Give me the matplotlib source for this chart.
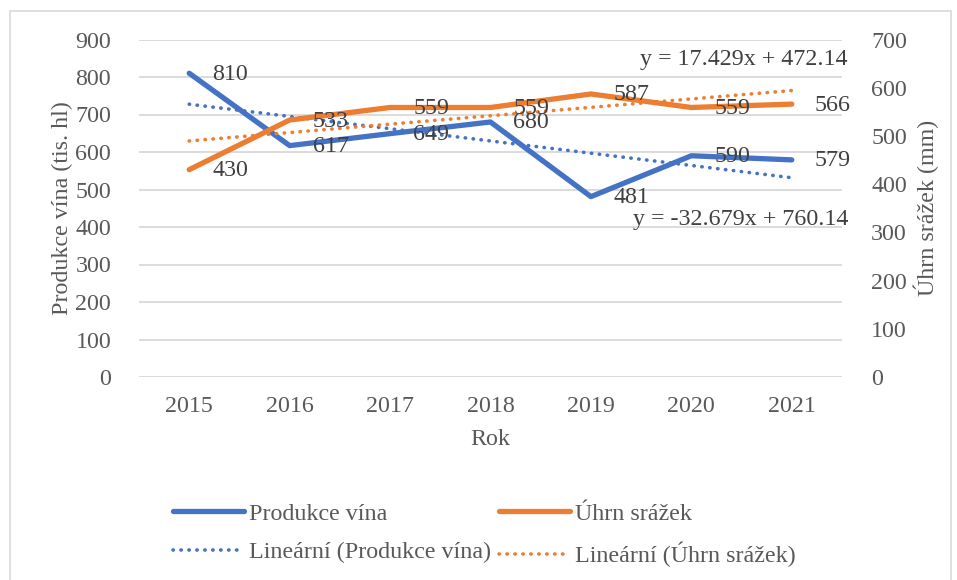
import numpy as np
import matplotlib
matplotlib.use("Agg")
import matplotlib.pyplot as plt
from matplotlib.patches import Rectangle

plt.rcParams['font.family'] = ['Liberation Serif', 'DejaVu Serif']

years = ['2015', '2016', '2017', '2018', '2019', '2020', '2021']
wine = [810, 617, 649, 680, 481, 590, 579]
rain = [430, 533, 559, 559, 587, 559, 566]
left_ticks = [0, 100, 200, 300, 400, 500, 600, 700, 800, 900]
right_ticks = [0, 100, 200, 300, 400, 500, 600, 700]

BLUE = '#4472C4'
ORANGE = '#ED7D31'
TXT = '#404040'
TICK = '#595959'
FS = 17.3

W, H = 957, 580
fig = plt.figure(figsize=(W / 100, H / 100), dpi=100)

# chart-area border
fig.patches.append(Rectangle((10 / W, -0.02), 941 / W, 1 - 11 / H + 0.02,
                             transform=fig.transFigure, fill=False,
                             edgecolor='#D9D9D9', linewidth=1.2))

ax = fig.add_axes([139 / W, 203 / H, 703 / W, 337.5 / H])
ax2 = ax.twinx()

x = np.arange(len(years))
xn = x + 1

# trendlines (least squares fit as Excel does)
wb, wa = np.polyfit(xn, wine, 1)
rb, ra = np.polyfit(xn, rain, 1)

DOT = (0, (0.1, 2.1))
l1, = ax.plot(x, wine, color=BLUE, lw=3.8, solid_capstyle='round',
              solid_joinstyle='round', zorder=5, label='Produkce vína')
l3, = ax.plot(x, wb * xn + wa, color=BLUE, lw=2.6, linestyle=DOT,
              dash_capstyle='round', zorder=4, label='Lineární (Produkce vína)')
l2, = ax2.plot(x, rain, color=ORANGE, lw=3.8, solid_capstyle='round',
               solid_joinstyle='round', zorder=5, label='Úhrn srážek')
l4, = ax2.plot(x, rb * xn + ra, color=ORANGE, lw=2.6, linestyle=DOT,
               dash_capstyle='round', zorder=4, label='Lineární (Úhrn srážek)')

for xi, v in zip(x, wine):
    ax.annotate(str(v), (xi, v), xytext=(23, -1), textcoords='offset pixels',
                ha='left', va='center', fontsize=FS, color=TXT, zorder=10)
for xi, v in zip(x, rain):
    ax2.annotate(str(v), (xi, v), xytext=(23, -1), textcoords='offset pixels',
                 ha='left', va='center', fontsize=FS, color=TXT, zorder=10)

ax.set_xlim(-0.5, len(years) - 0.5)
ax.set_ylim(0, 900)
ax2.set_ylim(0, 700)
ax.set_yticks(left_ticks)
ax2.set_yticks(right_ticks)
ax.set_xticks(x)
ax.set_xticklabels(years)

ax.grid(axis='y', color='#D9D9D9', linewidth=1.3)
ax.set_axisbelow(True)
for a in (ax, ax2):
    for s in a.spines.values():
        s.set_visible(False)
    a.tick_params(length=0, labelsize=FS, labelcolor=TICK)
ax.tick_params(axis='y', pad=20)
ax.tick_params(axis='x', pad=14)
ax2.tick_params(axis='y', pad=21)

ax.set_ylabel('Produkce vína (tis. hl)', fontsize=FS, color=TICK, labelpad=2)
ax2.set_ylabel('Úhrn srážek (mm)', fontsize=FS, color=TICK, labelpad=5)
ax.set_xlabel('Rok', fontsize=FS, color=TICK, labelpad=8)

def eq(b, a):
    sign = '+' if a >= 0 else '-'
    return f'y = {b:.3f}x {sign} {abs(a):.2f}'

ax.text(1.0085, (377 - 60) / 337.5, eq(rb, ra), transform=ax.transAxes,
        ha='right', va='center', fontsize=FS, color=TXT, zorder=10)
ax.text(1.0085, (377 - 220) / 337.5, eq(wb, wa), transform=ax.transAxes,
        ha='right', va='center', fontsize=FS, color=TXT, zorder=10)

fig.legend(handles=[l1, l3, l2, l4], ncol=2, loc='center',
           bbox_to_anchor=(484.5 / W, 1 - 535 / H), frameon=False,
           fontsize=FS, labelcolor=TICK, handlelength=2.95,
           handletextpad=0.2, columnspacing=0.35, labelspacing=0.7)

fig.savefig('out.png', dpi=100)
